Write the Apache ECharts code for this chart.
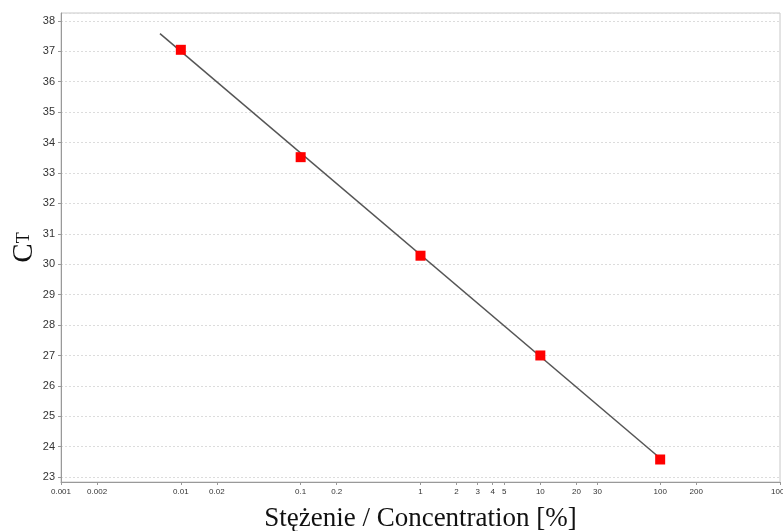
<!DOCTYPE html>
<html>
<head>
<meta charset="utf-8">
<script src="https://cdn.jsdelivr.net/npm/echarts@6/dist/echarts.min.js"></script>
<style>
html,body{margin:0;padding:0;background:#fff;}
#main{width:783px;height:531px;}
</style>
</head>
<body>
<div id="main"></div>
<script>
// Data
var concentrations = [0.01, 0.1, 1, 10, 100];
var ctValues = [37.05, 33.52, 30.28, 27.00, 23.58];
var fitX = [0.0067, 100];
var fitY = [37.58, 23.62];
var xTickValues = [0.001, 0.002, 0.01, 0.02, 0.1, 0.2, 1, 2, 3, 4, 5, 10, 20, 30, 100, 200, 1000];
var xTickLabels = ['0.001', '0.002', '0.01', '0.02', '0.1', '0.2', '1', '2', '3', '4', '5', '10', '20', '30', '100', '200', '1000'];

var xTickLogs = xTickValues.map(function (v) { return Math.log10(v); });
function labelFor(v) {
  var best = 0, bd = Infinity;
  for (var i = 0; i < xTickLogs.length; i++) {
    var d = Math.abs(xTickLogs[i] - v);
    if (d < bd) { bd = d; best = i; }
  }
  return xTickLabels[best];
}

var chart = echarts.init(document.getElementById('main'));
chart.setOption({
  animation: false,
  backgroundColor: '#fff',
  grid: {
    left: 61, right: 3, top: 13, bottom: 49,
    containLabel: false,
    outerBoundsMode: 'none',
    show: true, borderColor: '#c8c8c8', borderWidth: 1
  },
  xAxis: {
    type: 'value',
    min: Math.log10(0.001),
    max: Math.log10(1000),
    name: 'Stężenie / Concentration [%]',
    nameLocation: 'middle',
    nameGap: 23,
    nameMoveOverlap: false,
    nameTextStyle: { fontFamily: 'Liberation Serif', fontSize: 27, color: '#111' },
    axisLine: { onZero: false, lineStyle: { color: '#999', width: 1 } },
    axisTick: { show: true, length: 3, customValues: xTickLogs, lineStyle: { color: '#999' } },
    axisLabel: {
      customValues: xTickLogs,
      formatter: function (v) { return labelFor(v); },
      fontFamily: 'Liberation Sans', fontSize: 8, color: '#333', margin: 6
    },
    splitLine: { show: false }
  },
  yAxis: {
    type: 'value',
    min: 22.84,
    max: 38.26,
    splitNumber: 15,
    minInterval: 1,
    maxInterval: 1,
    name: '{c|C}{t|T}',
    nameLocation: 'middle',
    nameRotate: 90,
    nameGap: 22,
    nameMoveOverlap: false,
    nameTextStyle: {
      rich: {
        c: { fontFamily: 'Liberation Serif', fontSize: 29, color: '#111' },
        t: { fontFamily: 'Liberation Serif', fontSize: 18, color: '#111' }
      }
    },
    axisLine: { show: true, onZero: false, lineStyle: { color: '#999', width: 1 } },
    axisTick: { show: true, length: 3, lineStyle: { color: '#999' } },
    axisLabel: {
      showMinLabel: false, showMaxLabel: false,
      fontFamily: 'Liberation Sans', fontSize: 11, color: '#333', margin: 6
    },
    splitLine: { show: true, lineStyle: { color: '#dcdcdc', type: [2, 2], width: 1 } }
  },
  series: [
    {
      type: 'line',
      data: fitX.map(function (x, i) { return [Math.log10(x), fitY[i]]; }),
      symbol: 'none',
      lineStyle: { color: '#555', width: 1.5 },
      z: 2
    },
    {
      type: 'scatter',
      data: concentrations.map(function (c, i) { return [Math.log10(c), ctValues[i]]; }),
      symbol: 'rect',
      symbolSize: 10,
      itemStyle: { color: '#ff0000', opacity: 1 },
      z: 3
    }
  ]
});
</script>
</body>
</html>
